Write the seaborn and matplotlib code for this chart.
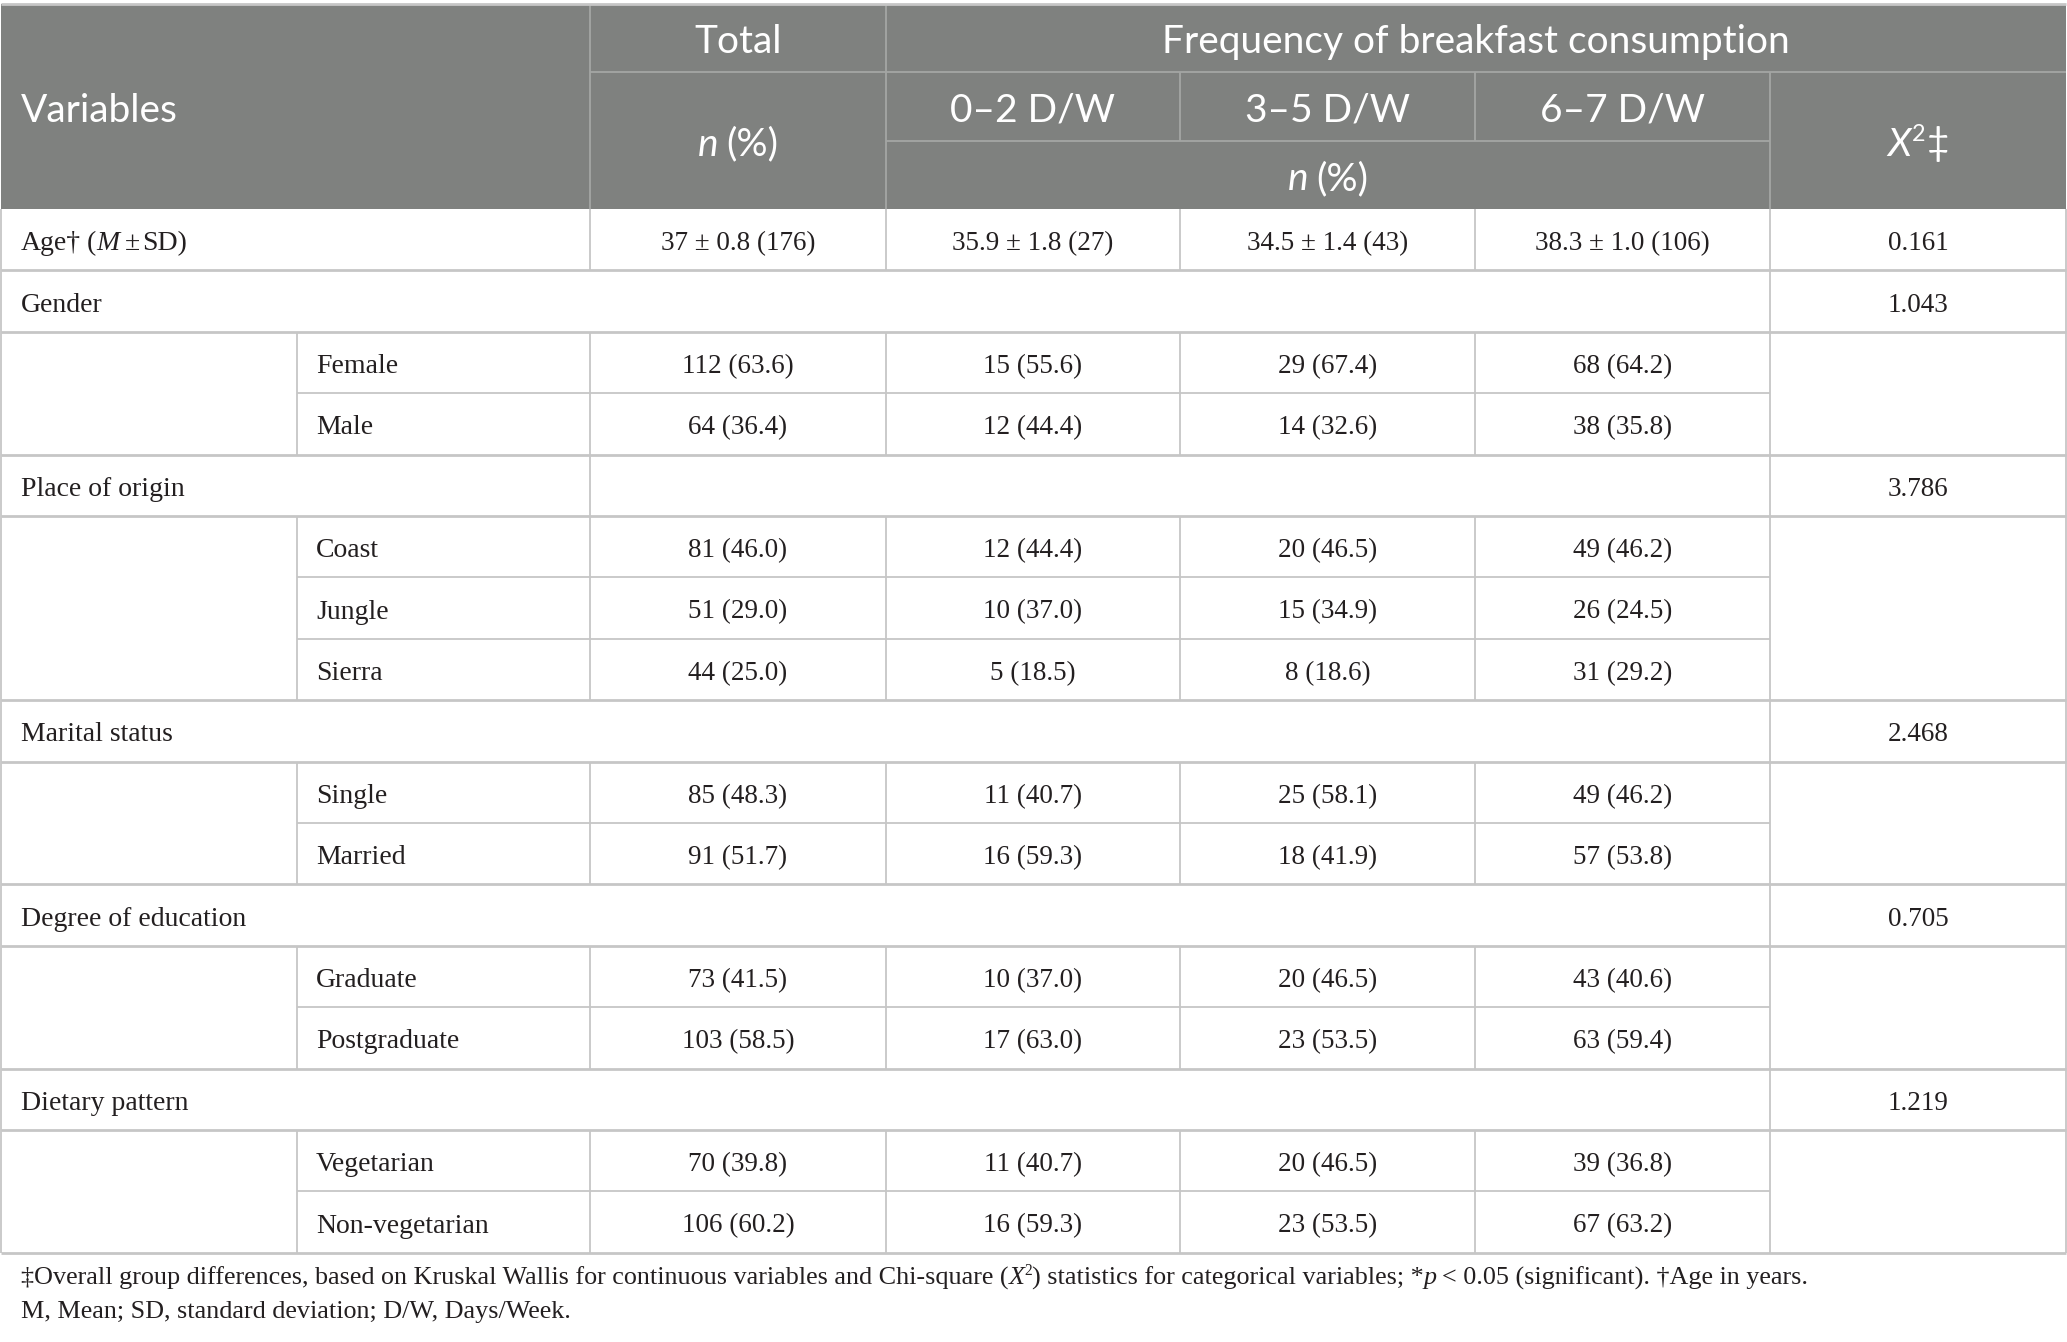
import numpy as np
import matplotlib.pyplot as plt
from matplotlib.patches import Rectangle
import seaborn as sns

# table values
groups = ["Gender", "Place of origin", "Marital status", "Degree of education", "Dietary pattern"]
group_chi = ["1.043", "3.786", "2.468", "0.705", "1.219"]
levels = [["Female", "Male"], ["Coast", "Jungle", "Sierra"], ["Single", "Married"],
          ["Graduate", "Postgraduate"], ["Vegetarian", "Non-vegetarian"]]
total_n = [[112, 64], [81, 51, 44], [85, 91], [73, 103], [70, 106]]
total_pct = [[63.6, 36.4], [46.0, 29.0, 25.0], [48.3, 51.7], [41.5, 58.5], [39.8, 60.2]]
low_n = [[15, 12], [12, 10, 5], [11, 16], [10, 17], [11, 16]]
low_pct = [[55.6, 44.4], [44.4, 37.0, 18.5], [40.7, 59.3], [37.0, 63.0], [40.7, 59.3]]
mid_n = [[29, 14], [20, 15, 8], [25, 18], [20, 23], [20, 23]]
mid_pct = [[67.4, 32.6], [46.5, 34.9, 18.6], [58.1, 41.9], [46.5, 53.5], [46.5, 53.5]]
high_n = [[68, 38], [49, 26, 31], [49, 57], [43, 63], [39, 67]]
high_pct = [[64.2, 35.8], [46.2, 24.5, 29.2], [46.2, 53.8], [40.6, 59.4], [36.8, 63.2]]
age_mean = [37, 35.9, 34.5, 38.3]
age_sd = [0.8, 1.8, 1.4, 1.0]
age_n = [176, 27, 43, 106]
age_chi = "0.161"
freq_labels = ["0\u20132 D/W", "3\u20135 D/W", "6\u20137 D/W"]

sns.set_theme(style="white")
plt.rcParams['font.family'] = ['Liberation Serif', 'DejaVu Serif']

W, H = 2067, 1342
HDR = '#7f817f'
HDR_LINE = '#a4a6a4'
GRID = '#c6c6c6'
TXT = '#231f20'
SANS = 'Lato'
SERIF = 'Liberation Serif'
HS, BS, NS, FS = 28, 20, 19.5, 18.8
VOFF = 4  # nudge text down a little

fig = plt.figure(figsize=(W / 100, H / 100), dpi=100)
ax = fig.add_axes([0, 0, 1, 1])
ax.set_xlim(0, W)
ax.set_ylim(H, 0)
ax.axis('off')
renderer = fig.canvas.get_renderer()

col_x = [1, 297, 590, 886, 1180, 1475, 1770, 2066]
hdr_y = [4, 72, 141, 209]
row_h = 61.4


def runs(x, y, parts, ha='center', color=TXT):
    # parts: (text, family, size, style, dy) or a number = gap in px
    texts, total = [], 0
    for p in parts:
        if isinstance(p, (int, float)):
            texts.append(p)
            total += p
            continue
        s, fam, size, style, dy = p
        t = ax.text(0, y + dy + VOFF, s, family=fam, fontsize=size, style=style,
                    color=color, ha='left', va='center')
        w = t.get_window_extent(renderer).width
        texts.append((t, w))
        total += w
    x0 = x - total / 2 if ha == 'center' else x
    for item in texts:
        if isinstance(item, (int, float)):
            x0 += item
            continue
        t, w = item
        t.set_x(x0)
        x0 += w


def ctext(x, y, s, size=NS):
    ax.text(x, y + VOFF, s, ha='center', va='center', family=SERIF, fontsize=size, color=TXT)


def ltext(x, y, s):
    ax.text(x, y + VOFF, s, ha='left', va='center', family=SERIF, fontsize=BS, color=TXT)


def htext(x, y, s, ha='center'):
    ax.text(x, y + VOFF, s, family=SANS, fontsize=HS, color='white', ha=ha, va='center')


# header block
ax.add_patch(Rectangle((col_x[0], hdr_y[0]), col_x[-1] - col_x[0], hdr_y[3] - hdr_y[0],
                       facecolor=HDR, edgecolor='none'))
ax.hlines(hdr_y[1], col_x[2], col_x[7], color=HDR_LINE, lw=1.3)
ax.hlines(hdr_y[2], col_x[3], col_x[6], color=HDR_LINE, lw=1.3)
ax.vlines([col_x[2], col_x[3]], hdr_y[0], hdr_y[3], color=HDR_LINE, lw=1.3)
ax.vlines([col_x[4], col_x[5]], hdr_y[1], hdr_y[2], color=HDR_LINE, lw=1.3)
ax.vlines(col_x[6], hdr_y[1], hdr_y[3], color=HDR_LINE, lw=1.3)
ax.hlines(hdr_y[0], col_x[0], col_x[7], color=GRID, lw=2)

hmid = lambda a, b: (a + b) / 2
htext(21, hmid(hdr_y[0], hdr_y[3]), "Variables", ha='left')
htext(hmid(col_x[2], col_x[3]), hmid(hdr_y[0], hdr_y[1]), "Total")
htext(hmid(col_x[3], col_x[7]), hmid(hdr_y[0], hdr_y[1]), "Frequency of breakfast consumption")
for i, lab in enumerate(freq_labels):
    htext(hmid(col_x[3 + i], col_x[4 + i]), hmid(hdr_y[1], hdr_y[2]), lab)
npct = [("n", SANS, HS, 'italic', 0), 7, ("(%)", SANS, HS, 'normal', 0)]
runs(hmid(col_x[2], col_x[3]), hmid(hdr_y[1], hdr_y[3]), npct, color='white')
runs(hmid(col_x[3], col_x[6]), hmid(hdr_y[2], hdr_y[3]), npct, color='white')
runs(hmid(col_x[6], col_x[7]), hmid(hdr_y[1], hdr_y[3]),
     [("X", SANS, HS, 'italic', 0), 1, ("2", SANS, HS * 0.6, 'normal', -10),
      1, ("\u2021", SANS, HS, 'normal', 0)], color='white')

# body
top = lambda r: hdr_y[3] + r * row_h
thick, thin = 2.0, 1.3

# age row
y = hmid(top(0), top(1))
runs(21, y, [("Age\u2020", SERIF, BS, 'normal', 0), 6, ("(", SERIF, BS, 'normal', 0),
             ("M", SERIF, BS, 'italic', 0), 5, ("\u00b1", SERIF, BS, 'normal', 0), 3,
             ("SD)", SERIF, BS, 'normal', 0)], ha='left')
for i in range(4):
    ctext(hmid(col_x[2 + i], col_x[3 + i]), y, f"{age_mean[i]:g} \u00b1 {age_sd[i]:.1f} ({age_n[i]})")
ctext(hmid(col_x[6], col_x[7]), y, age_chi)
ax.vlines(col_x[2:7], top(0), top(1), color=GRID, lw=thin)
ax.vlines([col_x[0], col_x[7]], top(0), top(1), color=GRID, lw=thin)
ax.hlines(top(1), col_x[0], col_x[7], color=GRID, lw=thick)
row = 1

cols = [(total_n, total_pct), (low_n, low_pct), (mid_n, mid_pct), (high_n, high_pct)]
for g, name in enumerate(groups):
    y = hmid(top(row), top(row + 1))
    ltext(21, y, name)
    ctext(hmid(col_x[6], col_x[7]), y, group_chi[g])
    sec_lines = [col_x[0], col_x[6], col_x[7]]
    if name == "Place of origin":
        sec_lines.append(col_x[2])
    ax.vlines(sec_lines, top(row), top(row + 1), color=GRID, lw=thin)
    ax.hlines(top(row + 1), col_x[0], col_x[7], color=GRID, lw=thick)
    row += 1
    start = row
    for j, lev in enumerate(levels[g]):
        y = hmid(top(row), top(row + 1))
        ltext(316, y, lev)
        for c, (nn, pp) in enumerate(cols):
            ctext(hmid(col_x[2 + c], col_x[3 + c]), y, f"{nn[g][j]} ({pp[g][j]:.1f})")
        ax.vlines(col_x[1:7], top(row), top(row + 1), color=GRID, lw=thin)
        if j < len(levels[g]) - 1:
            ax.hlines(top(row + 1), col_x[1], col_x[6], color=GRID, lw=thin)
        row += 1
    ax.vlines([col_x[0], col_x[7]], top(start), top(row), color=GRID, lw=thin)
    ax.hlines(top(row), col_x[0], col_x[7], color=GRID, lw=thick)

# footnotes
fy1, fy2 = 1274, 1308
runs(21, fy1, [("\u2021Overall group differences, based on Kruskal Wallis for continuous variables and Chi-square (",
                SERIF, FS, 'normal', 0), ("X", SERIF, FS, 'italic', 0),
               ("2", SERIF, FS * 0.6, 'normal', -7),
               (") statistics for categorical variables; *", SERIF, FS, 'normal', 0),
               ("p", SERIF, FS, 'italic', 0), 5, ("< 0.05 (significant). \u2020Age in years.", SERIF, FS, 'normal', 0)],
     ha='left')
ax.text(21, fy2 + VOFF, "M, Mean; SD, standard deviation; D/W, Days/Week.", family=SERIF, fontsize=FS,
        color=TXT, ha='left', va='center')

fig.savefig("out.png", dpi=100, facecolor='white')
